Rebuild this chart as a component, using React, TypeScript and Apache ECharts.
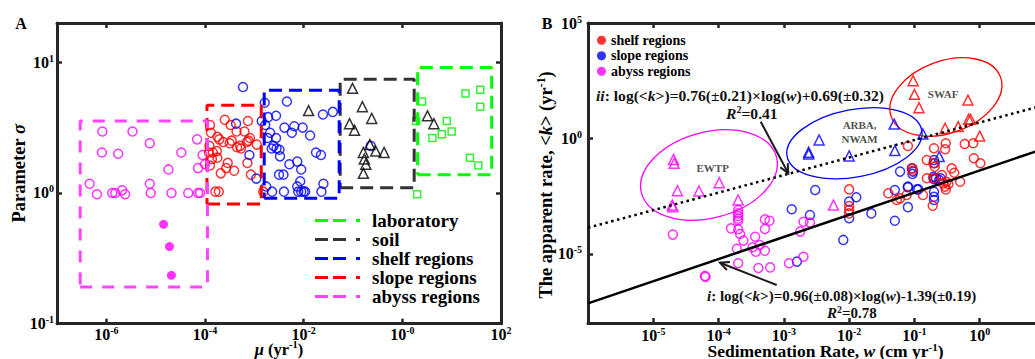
import React, { useEffect, useRef } from "react";
import * as echarts from "echarts";

const FONT = '"Liberation Serif", "Times New Roman", serif';
const FRAME = "#262626";

// ---------------- Panel A : [log10 mu (yr^-1), log10 sigma] ----------------
const abyssOpenA = [
  [-6.08, 0.47], [-5.47, 0.47], [-5.12, 0.38], [-4.16, 0.41], [-6.09, 0.31], [-5.76, 0.3],
  [-4.48, 0.31], [-4.05, 0.29], [-4.74, 0.18], [-4.14, 0.19], [-6.34, 0.07], [-5.12, 0.07],
  [-6.19, -0.01], [-5.88, 0.0], [-5.82, 0.0], [-5.68, 0.02], [-5.62, -0.01], [-5.1, 0.0],
  [-4.68, 0.0], [-4.34, 0.0], [-4.14, 0.0], [-4.1, 0.0], [-4.0, 0.22],
];
const abyssFilledA = [[-4.84, -0.24], [-4.72, -0.41], [-4.68, -0.63]];
const slopeA = [
  [-3.9, 0.52], [-3.6, 0.56], [-3.48, 0.52], [-3.36, 0.47], [-3.2, 0.47], [-3.13, 0.55],
  [-3.88, 0.46], [-3.75, 0.43], [-3.71, 0.41], [-3.63, 0.39], [-3.5, 0.38], [-3.46, 0.4],
  [-3.35, 0.35], [-3.27, 0.34], [-3.12, 0.4], [-3.09, 0.42], [-3.15, 0.39], [-2.95, 0.37],
  [-3.91, 0.36], [-3.92, 0.31], [-3.84, 0.31], [-3.86, 0.26], [-3.76, 0.32], [-3.75, 0.27],
  [-3.9, 0.21], [-3.54, 0.23], [-3.57, 0.19], [-3.68, 0.15], [-3.41, 0.17], [-3.14, 0.23],
  [-3.07, 0.14], [-3.79, 0.01], [-3.72, 0.01], [-2.82, 0.01], [-3.29, 0.36],
];
const shelfA = [
  [-3.23, 0.81], [-2.79, 0.69], [-2.34, 0.7], [-2.72, 0.58], [-2.56, 0.59], [-3.37, 0.53],
  [-2.85, 0.55], [-2.78, 0.52], [-2.39, 0.5], [-2.19, 0.51], [-2.02, 0.5], [-2.24, 0.46],
  [-1.87, 0.44], [-2.68, 0.46], [-1.61, 0.6], [-1.41, 0.62], [-2.73, 0.42], [-2.56, 0.42],
  [-2.65, 0.34], [-2.61, 0.36], [-2.55, 0.34], [-2.49, 0.33], [-3.1, 0.29], [-2.48, 0.28],
  [-1.75, 0.31], [-1.65, 0.29], [-2.29, 0.22], [-2.13, 0.24], [-2.05, 0.18], [-2.5, 0.14],
  [-2.41, 0.14], [-2.96, 0.11], [-2.07, 0.09], [-1.6, 0.07], [-2.76, 0.05], [-2.64, 0.01],
  [-2.4, 0.01], [-2.13, 0.05], [-2.11, 0.01], [-2.05, 0.01], [-2.0, 0.01], [-1.97, 0.01],
  [-1.64, 0.01], [-0.64, 0.36],
];
const soilA = [
  [-1.01, 0.8], [-0.81, 0.66], [-0.62, 0.57], [-1.07, 0.53], [-0.97, 0.48], [-0.66, 0.37],
  [-0.79, 0.31], [-0.54, 0.32], [-0.37, 0.31], [-0.77, 0.26], [-0.74, 0.22], [-0.79, 0.15],
  [0.51, 0.59], [0.64, 0.53], [-1.9, 0.63],
];
const labA = [
  [0.4, 0.7], [0.28, 0.55], [1.28, 0.76], [1.58, 0.79], [1.58, 0.66], [0.9, 0.55],
  [1.0, 0.47], [0.8, 0.45], [0.61, 0.42], [1.37, 0.27], [1.54, 0.21], [0.3, -0.01],
];
// region boxes: [xmin, xmax, ymin, ymax] in log10 units
const boxNames = ["laboratory", "soil", "shelf regions", "slope regions", "abyss regions"];
const boxBounds = [
  [0.31, 1.81, 0.14, 0.96],
  [-1.26, 0.24, 0.04, 0.87],
  [-2.8, -1.28, -0.04, 0.785],
  [-3.96, -2.86, -0.085, 0.67],
  [-6.53, -3.95, -0.72, 0.55],
];
const boxColors = ["#00ff00", "#333333", "#0000ff", "#ff0000", "#ff44ff"];
const boxDash = [[13, 7], [13, 7], [13, 7], [13, 7], [12, 10]];
const aXLabels = [-6, -4, -2, 0, 2];
const aXTicks = [-6, -4, -2, 0];
const aYLabels = [-1, 0, 1];
const aYTicks = [0, 1];

// ---------------- Panel B : [log10 w (cm/yr), log10 <k> (yr^-1)] ----------------
const bShelfCircles = [
  [-1.1, -0.33], [-0.52, -0.21], [-0.53, -0.47], [-0.7, -0.43], [-0.23, -0.24], [-0.1, -0.21],
  [-0.09, -0.86], [0.01, -1.08], [-0.81, -0.94], [-0.71, -1.08], [-0.69, -1.23], [-0.81, -1.73],
  [-0.71, -1.73], [-0.58, -1.59], [-0.43, -1.3], [-0.39, -1.49], [-0.3, -1.88], [-0.56, -1.95],
  [-0.51, -1.88], [-0.53, -2.09], [-0.52, -2.21], [-0.48, -1.98], [-1.4, -2.38], [-1.22, -2.6],
  [-1.12, -2.45], [-0.87, -2.45], [-0.72, -2.92], [-2.0, -2.21], [-2.0, -2.93], [-2.0, -3.1],
  [-2.0, -3.25], [-1.27, -2.67], [-1.03, -1.3], [-1.03, -1.4],
];
const bShelfTriangles = [
  [-1.02, 2.5], [-1.0, 1.91], [-0.93, 1.33], [-0.18, 1.66], [-0.17, 0.83], [-0.14, 0.83],
  [-0.53, 0.44], [-0.33, 0.51], [0.0, 0.1],
];
const bSlopeCircles = [
  [-2.52, -2.24], [-2.88, -3.07], [-2.6, -3.32], [-2.09, -4.4], [-2.8, -5.34], [-2.0, -2.74],
  [-2.0, -3.46], [-1.89, -2.55], [-1.66, -3.25], [-1.3, -3.57], [-1.22, -1.44], [-1.1, -2.12],
  [-1.1, -2.98], [-1.3, -2.24], [-0.96, -2.21], [-1.02, -1.44], [-1.04, -1.3], [-1.03, -1.54],
  [-1.1, -2.09], [-0.94, -2.21], [-0.7, -0.94], [-0.69, -1.08], [-0.71, -1.66], [-0.7, -1.77],
  [-0.67, -1.73], [-0.62, -1.8], [-0.6, -1.73], [-0.7, -2.31], [-0.7, -2.53], [-0.7, -2.67],
];
const bSlopeTriangles = [
  [-2.46, -0.07], [-2.62, -0.6], [-2.62, -0.68], [-2.0, -0.76], [-1.31, 0.62], [-1.3, -0.53],
  [-0.87, 0.19], [-0.62, -0.79],
];
const bAbyssCircles = [
  [-3.7, -3.1], [-3.7, -3.25], [-3.7, -3.36], [-3.7, -3.48], [-3.7, -3.57], [-4.7, -4.17],
  [-3.81, -3.9], [-3.7, -3.94], [-3.67, -4.14], [-3.62, -4.43], [-3.72, -4.78], [-3.44, -4.26],
  [-3.29, -3.51], [-3.22, -3.57], [-3.29, -3.93], [-3.37, -4.62], [-3.48, -4.72], [-3.43, -4.91],
  [-3.29, -4.87], [-3.7, -5.41], [-3.39, -5.62], [-3.21, -5.59], [-2.92, -5.41], [-4.21, -5.96],
  [-4.2, -6.0], [-2.7, -3.61], [-2.6, -3.65], [-2.75, -4.04], [-2.7, -5.13],
];
const bAbyssTriangles = [
  [-4.69, -0.91], [-4.68, -1.08], [-3.99, -1.92], [-4.63, -2.27], [-4.3, -2.28], [-4.71, -2.89],
  [-4.7, -2.96], [-3.7, -2.67], [-2.24, -2.89],
];
const fitI = [0.96, -1.39]; // slope, intercept
const fitII = [0.76, 0.69];
const fitRange = [-6, 1];
// ellipses: [centre log w, centre log k, semi-axis x (decades), semi-axis y (decades), tilt deg]
const ellipses = [
  [-4.147, -1.586, 1.07, 1.86, 15],
  [-1.919, -0.212, 1.05, 1.46, 11],
  [-0.518, 1.794, 0.89, 1.56, 20],
];
const ellipseColors = ["#ff00ff", "#0000ff", "#ff0000"];
const regionLabels = [
  { name: "EWTP", value: [-4.09, -1.3] },
  { name: "ARBA,\nNWAM", value: [-1.84, 0.256] },
  { name: "SWAF", value: [-0.56, 1.91] },
];
const bXLabels = [-5, -4, -3, -2, -1, 0];
const bYLabels = [-5, 0, 5];
const bYTicks = [-5, 0];
const legendBNames = ["Bshelf", "Bslope", "Babyss"];
const legendBText: Record<string, string> = {
  Bshelf: "shelf regions",
  Bslope: "slope regions",
  Babyss: "abyss regions",
};
const legendBColors = ["#ff0000", "#0000ff", "#ff00ff"];

const tickRich = {
  b: { fontFamily: FONT, fontWeight: "bold", fontSize: 16, color: "#000", lineHeight: 18 },
  s: { fontFamily: FONT, fontWeight: "bold", fontSize: 10, color: "#000", verticalAlign: "top", lineHeight: 10 },
};
const nameRich = (fs: number) => ({
  n: { fontFamily: FONT, fontWeight: "bold", fontSize: fs, color: "#000", lineHeight: fs + 3 },
  i: { fontFamily: FONT, fontWeight: "bold", fontStyle: "italic", fontSize: fs, color: "#000", lineHeight: fs + 3 },
  s: { fontFamily: FONT, fontWeight: "bold", fontSize: fs * 0.63, color: "#000", verticalAlign: "top", lineHeight: fs * 0.63 },
});
const eqRich = (fs: number) => ({
  n: { fontFamily: FONT, fontWeight: "bold", fontSize: fs, fill: "#111", lineHeight: fs + 2 },
  it: { fontFamily: FONT, fontWeight: "bold", fontStyle: "italic", fontSize: fs, fill: "#111", lineHeight: fs + 2 },
  sup: { fontFamily: FONT, fontWeight: "bold", fontSize: fs * 0.65, fill: "#111", verticalAlign: "top", lineHeight: fs * 0.65 },
});

const expFmt = (minusZero: boolean) => (v: number) => {
  const e = minusZero && v === 0 ? "-0" : String(Math.round(v));
  return `{b|10}{s|${e}}`;
};

function frameAxis(extra: any) {
  return {
    type: "value",
    axisLine: { show: true, onZero: false, lineStyle: { color: FRAME, width: 3 } },
    splitLine: { show: false },
    nameMoveOverlap: false,
    ...extra,
  };
}
function ticks(values: number[]) {
  return { show: true, inside: true, length: 5, customValues: values, lineStyle: { color: FRAME, width: 2.5 } };
}

function boxCorners(b: number[]) {
  return [[b[0], b[2]], [b[1], b[2]], [b[1], b[3]], [b[0], b[3]], [b[0], b[2]]];
}

function arrow(from: number[], to: number[], len = 10, ang = 25) {
  const dx = from[0] - to[0];
  const dy = from[1] - to[1];
  const L = Math.hypot(dx, dy);
  const ux = dx / L;
  const uy = dy / L;
  const a = (ang * Math.PI) / 180;
  const c = Math.cos(a);
  const s = Math.sin(a);
  const w1 = [to[0] + len * (ux * c - uy * s), to[1] + len * (ux * s + uy * c)];
  const w2 = [to[0] + len * (ux * c + uy * s), to[1] + len * (-ux * s + uy * c)];
  return [
    { type: "line", shape: { x1: from[0], y1: from[1], x2: to[0], y2: to[1] }, style: { stroke: "#1a1a1a", lineWidth: 2 } },
    { type: "polyline", shape: { points: [w1, to, w2] }, style: { stroke: "#1a1a1a", lineWidth: 2, fill: "none" } },
  ];
}

const hollow = (name: string, data: number[][], symbol: string, color: string, size: number, xi: number, yi: number) => ({
  type: "scatter",
  name,
  data,
  symbol,
  symbolSize: size,
  xAxisIndex: xi,
  yAxisIndex: yi,
  itemStyle: { color: "rgba(255,255,255,0)", borderColor: color, borderWidth: 1.5 },
  z: 2,
});

const legendPath = "path://M0,0h13v3h-13zM18,0h13v3h-13zM41,0h4v3h-4zM51.99,0h0.01v3h-0.01z";

export default function App() {
  const ref = useRef<HTMLDivElement>(null);
  useEffect(() => {
    if (!ref.current) return;
    const chart = echarts.init(ref.current, undefined, { renderer: "svg" });
    const fitLine = (f: number[]) => fitRange.map((x) => [x, f[0] * x + f[1]]);
    const option: any = {
      animation: false,
      textStyle: { fontFamily: FONT, fontWeight: "bold" },
      grid: [
        { left: 57, top: 23, width: 444, height: 300.7, outerBoundsMode: "none", containLabel: false },
        { left: 588, top: 23, width: 457, height: 300, outerBoundsMode: "none", containLabel: false },
      ],
      xAxis: [
        frameAxis({
          gridIndex: 0, position: "bottom", min: -7, max: 2,
          axisTick: ticks(aXTicks),
          axisLabel: { show: true, customValues: aXLabels, formatter: expFmt(true), rich: tickRich, margin: 2 },
          name: "{i|μ}{n| (yr}{s|-1}{n|)}", nameLocation: "middle", nameGap: 16,
          nameTextStyle: { rich: nameRich(16.5) },
        }),
        frameAxis({ gridIndex: 0, position: "top", min: -7, max: 2, axisTick: ticks(aXTicks), axisLabel: { show: false } }),
        frameAxis({
          gridIndex: 1, position: "bottom", min: -6, max: 1,
          axisTick: ticks(bXLabels),
          axisLabel: { show: true, customValues: bXLabels, formatter: expFmt(false), rich: tickRich, margin: 3 },
          name: "{n|Sedimentation Rate, }{i|w}{n| (cm yr}{s|-1}{n|)}", nameLocation: "middle", nameGap: 18,
          nameTextStyle: { rich: nameRich(17.5), padding: [0, 0, 0, 18] },
        }),
        frameAxis({ gridIndex: 1, position: "top", min: -6, max: 1, axisTick: ticks(bXLabels), axisLabel: { show: false } }),
      ],
      yAxis: [
        frameAxis({
          gridIndex: 0, position: "left", min: -1, max: 1.3,
          axisTick: ticks(aYTicks),
          axisLabel: { show: true, customValues: aYLabels, formatter: expFmt(false), rich: tickRich, margin: 3 },
          name: "{n|Parameter }{i|σ}", nameLocation: "middle", nameGap: 27,
          nameTextStyle: { rich: nameRich(18.5) },
        }),
        frameAxis({ gridIndex: 0, position: "right", min: -1, max: 1.3, axisTick: ticks(aYTicks), axisLabel: { show: false } }),
        frameAxis({
          gridIndex: 1, position: "left", min: -8, max: 5,
          axisTick: ticks(bYTicks),
          axisLabel: { show: true, customValues: bYLabels, formatter: expFmt(false), rich: tickRich, margin: 6 },
          name: "{n|The apparent rate, <}{i|k}{n|> (yr}{s|-1}{n|)}", nameLocation: "middle", nameGap: 31,
          nameTextStyle: { rich: nameRich(18.5), padding: [0, 24, 0, 0] },
        }),
        frameAxis({ gridIndex: 1, position: "right", min: -8, max: 5, axisTick: ticks(bYTicks), axisLabel: { show: false } }),
      ],
      legend: [
        {
          orient: "vertical", left: 315, top: 211, itemWidth: 52, itemHeight: 3, itemGap: 0, padding: 0,
          selectedMode: false,
          textStyle: { fontFamily: FONT, fontWeight: "bold", fontSize: 19, color: "#000", lineHeight: 19 },
          data: boxNames.map((n, i) => ({ name: n, icon: legendPath, itemStyle: { color: boxColors[i], borderWidth: 0 } })),
        },
        {
          orient: "vertical", left: 597, top: 32.5, itemWidth: 9, itemHeight: 9, itemGap: 0, padding: 0,
          selectedMode: false,
          formatter: (n: string) => legendBText[n],
          textStyle: { fontFamily: FONT, fontWeight: "bold", fontSize: 14, color: "#000", lineHeight: 15.5 },
          data: legendBNames.map((n, i) => ({ name: n, icon: "circle", itemStyle: { color: legendBColors[i], borderWidth: 0 } })),
        },
      ],
      series: [
        hollow("abyssA", abyssOpenA, "circle", "#ff00ff", 9, 0, 0),
        {
          type: "scatter", name: "abyssFilledA", data: abyssFilledA, symbol: "circle", symbolSize: 9,
          xAxisIndex: 0, yAxisIndex: 0, itemStyle: { color: "#ff00ff" }, z: 2,
        },
        hollow("slopeA", slopeA, "circle", "#ff0000", 9, 0, 0),
        hollow("shelfA", shelfA, "circle", "#0000ff", 9, 0, 0),
        hollow("soilA", soilA, "triangle", "#000000", 10, 0, 0),
        hollow("labA", labA, "rect", "#00ee00", 7, 0, 0),
        ...boxNames.map((n, i) => ({
          type: "line", name: n, data: boxCorners(boxBounds[i]), xAxisIndex: 0, yAxisIndex: 0,
          symbol: "none", showSymbol: false, z: 3,
          itemStyle: { color: boxColors[i] },
          lineStyle: { color: boxColors[i], width: 3, type: boxDash[i], cap: "butt" },
        })),
        // Panel B
        {
          type: "custom", name: "ellipses", xAxisIndex: 2, yAxisIndex: 2, data: ellipses, z: 1,
          renderItem: (params: any, api: any) => {
            const c = api.coord([api.value(0), api.value(1)]);
            const rx = api.size([api.value(2), 0])[0];
            const ry = api.size([0, api.value(3)])[1];
            return {
              type: "ellipse", x: c[0], y: c[1], rotation: (api.value(4) * Math.PI) / 180,
              shape: { cx: 0, cy: 0, rx, ry },
              style: { fill: "none", stroke: ellipseColors[params.dataIndex], lineWidth: 1.3 },
            };
          },
        },
        {
          type: "line", name: "fitI", data: fitLine(fitI), xAxisIndex: 2, yAxisIndex: 2, symbol: "none",
          lineStyle: { color: "#000", width: 2.5 }, z: 3,
        },
        {
          type: "line", name: "fitII", data: fitLine(fitII), xAxisIndex: 2, yAxisIndex: 2, symbol: "none",
          lineStyle: { color: "#000", width: 2.5, type: [2.5, 3.5] }, z: 3,
        },
        hollow("Bslope", bSlopeCircles, "circle", "#0000ff", 9, 2, 2),
        hollow("BslopeTri", bSlopeTriangles, "triangle", "#0000ff", 10, 2, 2),
        hollow("Bshelf", bShelfCircles, "circle", "#ff0000", 9, 2, 2),
        hollow("BshelfTri", bShelfTriangles, "triangle", "#ff0000", 10, 2, 2),
        hollow("Babyss", bAbyssCircles, "circle", "#ff00ff", 9, 2, 2),
        hollow("BabyssTri", bAbyssTriangles, "triangle", "#ff00ff", 10, 2, 2),
        {
          type: "scatter", name: "regionLabels", data: regionLabels, xAxisIndex: 2, yAxisIndex: 2,
          symbolSize: 0, z: 4,
          label: {
            show: true, position: "inside", formatter: "{b}", color: "#222",
            fontFamily: FONT, fontWeight: "bold", fontSize: 11, lineHeight: 14,
          },
        },
      ],
      graphic: [
        { type: "text", x: 21, y: 23, style: { text: "A", fontFamily: FONT, fontWeight: "bold", fontSize: 16, fill: "#000", align: "center", verticalAlign: "middle" } },
        { type: "text", x: 547, y: 23, style: { text: "B", fontFamily: FONT, fontWeight: "bold", fontSize: 16, fill: "#000", align: "center", verticalAlign: "middle" } },
        {
          type: "text", x: 596, y: 95, z: 10,
          style: {
            text: "{it|ii}{n|: log(<}{it|k}{n|>)=0.76(±0.21)×log(}{it|w}{n|)+0.69(±0.32)}",
            rich: eqRich(15.6), align: "left", verticalAlign: "middle",
          },
        },
        {
          type: "text", x: 726, y: 113, z: 10,
          style: { text: "{it|R}{sup|2}{n|=0.41}", rich: eqRich(15.6), align: "left", verticalAlign: "middle" },
        },
        {
          type: "text", x: 707, y: 296, z: 10,
          style: {
            text: "{it|i}{n|: log(<}{it|k}{n|>)=0.96(±0.08)×log(}{it|w}{n|)-1.39(±0.19)}",
            rich: eqRich(15), align: "left", verticalAlign: "middle",
          },
        },
        {
          type: "text", x: 827, y: 313, z: 10,
          style: { text: "{it|R}{sup|2}{n|=0.78}", rich: eqRich(15), align: "left", verticalAlign: "middle" },
        },
        ...arrow([760.7, 121.7], [788.3, 173.3]),
        ...arrow([776.7, 285], [720, 262.7]),
      ],
    };
    chart.setOption(option);
    return () => chart.dispose();
  }, []);
  return (
    <div
      ref={ref}
      style={{ position: "absolute", left: 0, top: 0, width: 1035, height: 359, background: "#fff" }}
    />
  );
}
